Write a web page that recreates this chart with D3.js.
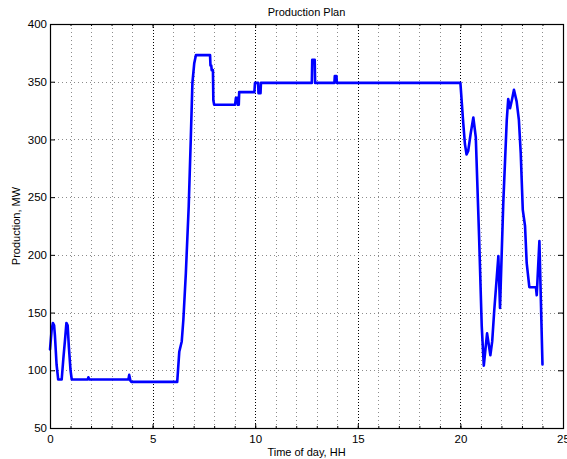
<!DOCTYPE html>
<html>
<head>
<meta charset="utf-8">
<script src="https://cdn.jsdelivr.net/npm/d3@7"></script>
<style>
html,body{margin:0;padding:0;background:#fff;}
svg{display:block;font-family:"Liberation Sans",Arial,Helvetica,sans-serif;}
</style>
</head>
<body>
<svg id="chart" width="567" height="459"></svg>
<script>
// ---- data ----
const hours = [0.00,0.08,0.14,0.20,0.24,0.32,0.40,0.57,0.65,0.74,0.80,0.86,0.92,1.00,1.06,
  1.84,1.87,1.92,3.82,3.86,3.92,3.96,6.20,6.30,6.42,6.50,6.62,6.76,6.86,6.94,7.03,7.11,
  7.80,7.82,7.86,7.88,7.94,7.96,8.00,9.02,9.06,9.14,9.16,9.20,9.22,9.96,9.99,10.14,10.16,10.26,10.28,
  12.76,12.78,12.90,12.92,13.86,13.88,13.96,13.98,20.00,20.14,20.22,20.30,20.38,20.50,20.63,20.75,
  20.91,21.04,21.14,21.30,21.46,21.55,21.65,21.77,21.85,21.93,22.09,22.26,22.33,22.42,22.52,22.61,
  22.74,22.85,22.94,23.04,23.15,23.23,23.36,23.68,23.72,23.85,23.88,24.00];
const production = [118,135,141,139,130,105,92,92,110,128,141,139,120,100,92,
  92,94,92,92,96,91,90,90,116,125,144,184,242,300,349,366,373,
  373,364,364,360,360,334,330,330,336,336,330,330,341,341,349,349,340,340,349,
  349,369,369,349,349,355,355,349,349,314,296,287,290,305,319,302,
  216,138,104,132,113,125,152,180,199,154,245,317,335,327,335,343,
  333,317,288,239,225,193,172,172,165,212,190,105];
const xTicks = [0,5,10,15,20,25];
const yTicks = [50,100,150,200,250,300,350,400];
const xMinor = d3.range(0,26,1);
const titleText = "Production Plan";
const xLabel = "Time of day, HH";
const yLabel = "Production, MW";

// ---- layout ----
const L = 50, R = 563, T = 24, B = 428;
const svg = d3.select("#chart");
const x = d3.scaleLinear().domain([0,25]).range([L,R]);
const y = d3.scaleLinear().domain([50,400]).range([B,T]);

// background
svg.append("rect").attr("x",0).attr("y",0).attr("width",567).attr("height",459).attr("fill","#fff");

// grid
const grid = svg.append("g");
grid.selectAll("line.vminor").data(xMinor.filter(d => d % 5 !== 0))
  .join("line").attr("class","vminor")
  .attr("x1",d=>Math.round(x(d))+0.5).attr("x2",d=>Math.round(x(d))+0.5)
  .attr("y1",T).attr("y2",B)
  .attr("stroke","#8c8c8c").attr("stroke-width",1).attr("stroke-dasharray","1,3");
grid.selectAll("line.vmajor").data(xTicks.filter(d => d>0 && d<25))
  .join("line").attr("class","vmajor")
  .attr("x1",d=>Math.round(x(d))+0.5).attr("x2",d=>Math.round(x(d))+0.5)
  .attr("y1",T).attr("y2",B)
  .attr("stroke","#000").attr("stroke-width",1).attr("stroke-dasharray","1,2");
grid.selectAll("line.h").data(yTicks.filter(d => d>50 && d<400))
  .join("line").attr("class","h")
  .attr("x1",L).attr("x2",R)
  .attr("y1",d=>Math.round(y(d))+0.5).attr("y2",d=>Math.round(y(d))+0.5)
  .attr("stroke","#8c8c8c").attr("stroke-width",1).attr("stroke-dasharray","1,3");

// data line
const pts = hours.map((h,i)=>[h,production[i]]);
svg.append("path").datum(pts)
  .attr("fill","none").attr("stroke","#0000ff").attr("stroke-width",2.6)
  .attr("stroke-linejoin","round").attr("stroke-linecap","round")
  .attr("d", d3.line().x(d=>x(d[0])).y(d=>y(d[1])));

// axes
function styleAxis(g){
  g.select(".domain").remove();
  g.selectAll(".tick line").attr("stroke","#000");
  g.selectAll("text").attr("fill","#000").attr("font-size","11.5px")
    .attr("font-family","'Liberation Sans',Arial,Helvetica,sans-serif");
}
svg.append("g").attr("transform",`translate(0,${B})`)
  .call(d3.axisBottom(x).tickValues(xTicks).tickSize(-4).tickSizeOuter(0).tickPadding(7).tickFormat(d3.format("d")))
  .call(styleAxis);
svg.append("g").attr("transform",`translate(0,${B})`)
  .call(d3.axisBottom(x).tickValues(xMinor).tickSize(-2).tickSizeOuter(0).tickFormat(""))
  .call(styleAxis);
svg.append("g").attr("transform",`translate(0,${T})`)
  .call(d3.axisTop(x).tickValues(xTicks).tickSize(-4).tickSizeOuter(0).tickFormat(""))
  .call(styleAxis);
svg.append("g").attr("transform",`translate(0,${T})`)
  .call(d3.axisTop(x).tickValues(xMinor).tickSize(-2).tickSizeOuter(0).tickFormat(""))
  .call(styleAxis);
svg.append("g").attr("transform",`translate(${L},0)`)
  .call(d3.axisLeft(y).tickValues(yTicks).tickSize(-5).tickSizeOuter(0).tickPadding(3).tickFormat(d3.format("d")))
  .call(styleAxis);
svg.append("g").attr("transform",`translate(${R},0)`)
  .call(d3.axisRight(y).tickValues(yTicks).tickSize(-5).tickSizeOuter(0).tickFormat(""))
  .call(styleAxis);

// box
svg.append("rect").attr("x",L+0.5).attr("y",T+0.5).attr("width",R-L).attr("height",B-T)
  .attr("fill","none").attr("stroke","#000").attr("stroke-width",1.2);

// texts
svg.append("text").attr("x",(L+R)/2).attr("y",15.5).attr("text-anchor","middle")
  .attr("font-size","11px").attr("fill","#000").text(titleText);
svg.append("text").attr("x",(L+R)/2).attr("y",456).attr("text-anchor","middle")
  .attr("font-size","11px").attr("fill","#000").text(xLabel);
svg.append("text").attr("transform",`translate(20,${(T+B)/2}) rotate(-90)`).attr("text-anchor","middle")
  .attr("font-size","11px").attr("fill","#000").text(yLabel);
</script>
</body>
</html>
